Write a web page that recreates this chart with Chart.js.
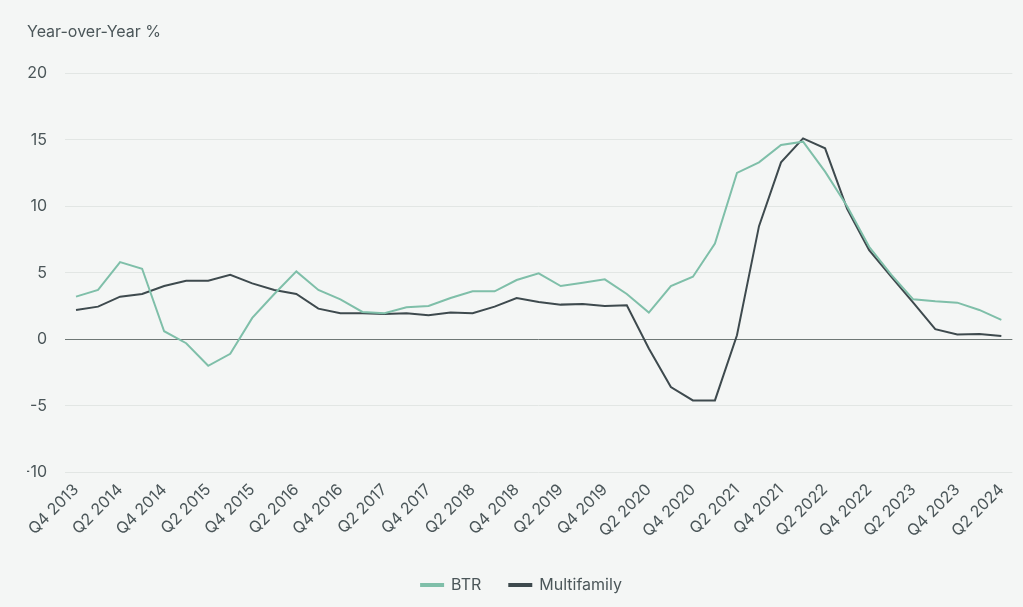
<!DOCTYPE html>
<html>
<head>
<meta charset="utf-8">
<script src="https://cdn.jsdelivr.net/npm/chart.js@4.4.1/dist/chart.umd.min.js"></script>
<style>
  html, body { margin: 0; padding: 0; background: #f4f6f5; }
  #wrap { width: 1023px; height: 607px; position: relative; }
</style>
</head>
<body>
<div id="wrap"><canvas id="c" width="1023" height="607"></canvas></div>
<script>
const categories = [
  "Q4 2013","Q1 2014","Q2 2014","Q3 2014","Q4 2014","Q1 2015","Q2 2015","Q3 2015","Q4 2015",
  "Q1 2016","Q2 2016","Q3 2016","Q4 2016","Q1 2017","Q2 2017","Q3 2017","Q4 2017",
  "Q1 2018","Q2 2018","Q3 2018","Q4 2018","Q1 2019","Q2 2019","Q3 2019","Q4 2019",
  "Q1 2020","Q2 2020","Q3 2020","Q4 2020","Q1 2021","Q2 2021","Q3 2021","Q4 2021",
  "Q1 2022","Q2 2022","Q3 2022","Q4 2022","Q1 2023","Q2 2023","Q3 2023","Q4 2023",
  "Q1 2024","Q2 2024"
];
const btr = [3.2, 3.7, 5.8, 5.3, 0.6, -0.3, -2.0, -1.1, 1.6, 3.4, 5.1, 3.7, 3.0, 2.05, 1.95, 2.4, 2.5,
  3.1, 3.6, 3.6, 4.45, 4.95, 4.0, 4.25, 4.5, 3.4, 2.0, 4.0, 4.7, 7.2, 12.5, 13.3, 14.6,
  14.85, 12.6, 10.0, 6.95, 4.85, 3.0, 2.85, 2.75, 2.2, 1.45];
const multifamily = [2.2, 2.45, 3.2, 3.4, 4.0, 4.4, 4.4, 4.85, 4.2, 3.7, 3.4, 2.3, 1.95, 1.95, 1.9, 1.95, 1.8,
  2.0, 1.95, 2.45, 3.1, 2.8, 2.6, 2.65, 2.5, 2.55, -0.7, -3.6, -4.6, -4.6, 0.3, 8.5, 13.3,
  15.1, 14.35, 9.8, 6.7, 4.7, 2.75, 0.75, 0.35, 0.4, 0.25];
const yTicks = [-10, -5, 0, 5, 10, 15, 20];

const textColor = '#4b5659';
const font = { family: 'Inter, "Noto Sans", sans-serif', size: 16, weight: 'normal' };

new Chart(document.getElementById('c'), {
  type: 'line',
  data: {
    labels: categories,
    datasets: [
      { label: 'BTR', data: btr, borderColor: '#7fbfa9', backgroundColor: '#7fbfa9',
        borderWidth: 2, pointRadius: 0, tension: 0 },
      { label: 'Multifamily', data: multifamily, borderColor: '#3e4a4e', backgroundColor: '#3e4a4e',
        borderWidth: 2, pointRadius: 0, tension: 0 }
    ]
  },
  options: {
    responsive: false,
    animation: false,
    layout: { padding: { left: 27, right: 7, top: 23, bottom: 4 } },
    plugins: {
      title: {
        display: true, text: 'Year-over-Year %', align: 'start',
        color: textColor, font: font, padding: { top: 0, bottom: 31 }
      },
      legend: {
        position: 'bottom',
        labels: { color: textColor, font: font, boxWidth: 22, boxHeight: 2, padding: 28 }
      },
      tooltip: { enabled: false }
    },
    scales: {
      x: {
        offset: true,
        grid: { display: false, drawTicks: false },
        border: { display: false },
        ticks: {
          color: textColor, font: font, autoSkip: false, maxRotation: 45, minRotation: 45, padding: 8,
          callback: function(v, i) { return i % 2 === 0 ? categories[i] : ''; }
        }
      },
      y: {
        min: -10, max: 20,
        afterFit: function(s) { s.width = 38; },
        afterBuildTicks: function(s) { s.ticks = yTicks.map(v => ({ value: v })); },
        grid: {
          drawTicks: false,
          color: ctx => (ctx.tick && ctx.tick.value === 0) ? '#6e7775' : '#e2e6e4',
          lineWidth: 1
        },
        border: { display: false },
        ticks: { color: textColor, font: font, padding: 18 }
      }
    }
  }
});
</script>
</body>
</html>
